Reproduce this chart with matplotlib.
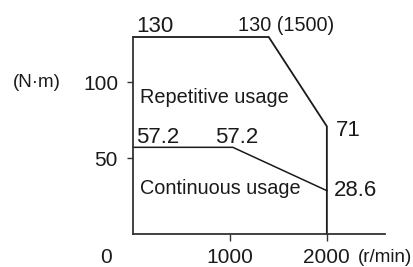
import matplotlib
matplotlib.use("Agg")
import matplotlib.pyplot as plt

plt.rcParams["font.family"] = ["Liberation Sans", "DejaVu Sans"]

# ----- data -----
rep_speed = [0, 1400, 2000, 2000]
rep_torque = [130, 130, 71, 0]
cont_speed = [0, 1030, 2000]
cont_torque = [57.2, 57.2, 28.6]
y_ticks = [50, 100]
x_ticks = [1000, 2000]

INK = "#1a1a1a"

fig = plt.figure(figsize=(4.14, 2.67), dpi=100)
ax = fig.add_axes([0.3213, 0.1236, 0.6087, 0.7378])
ax.set_xlim(0, 2600)
ax.set_ylim(0, 130)

for s in ["top", "right"]:
    ax.spines[s].set_visible(False)
for s in ["left", "bottom"]:
    ax.spines[s].set_linewidth(1.3)
    ax.spines[s].set_color("#333333")

ax.plot(rep_speed, rep_torque, color=INK, lw=1.3, solid_joinstyle="miter", clip_on=False)
ax.plot(cont_speed, cont_torque, color=INK, lw=1.1, clip_on=False)

ax.set_yticks(y_ticks)
ax.set_xticks(x_ticks)
ax.tick_params(axis="y", direction="out", length=4.3, width=1, pad=6.5,
               labelsize=15, colors="#333333", labelcolor=INK)
ax.tick_params(axis="x", direction="out", length=5, width=1, pad=5,
               labelsize=15, colors="#333333", labelcolor=INK)

# origin label and units
ax.text(-280, -15.2, "0", ha="center", va="center", fontsize=15, color=INK, clip_on=False)
ax.text(2319, -15.2, "(r/min)", ha="left", va="center", fontsize=13.5, color=INK, clip_on=False)
ax.text(-1242, 100, "(N\u00b7m)", ha="left", va="center", fontsize=13.5, color=INK, clip_on=False)

# value annotations
ax.text(31, 133.5, "130", ha="left", va="baseline", fontsize=16, color=INK, clip_on=False)
ax.text(1584, 133.8, "130 (1500)", ha="center", va="baseline", fontsize=14.3, color=INK, clip_on=False)
ax.text(31, 60.1, "57.2", ha="left", va="baseline", fontsize=16, color=INK)
ax.text(849, 60.1, "57.2", ha="left", va="baseline", fontsize=16, color=INK)
ax.text(2091, 68, "71", ha="left", va="center", fontsize=16, color=INK)
ax.text(2070, 28.4, "28.6", ha="left", va="center", fontsize=16, color=INK)

ax.text(72, 89.9, "Repetitive usage", ha="left", va="center", fontsize=14.3, color=INK)
ax.text(72, 29.7, "Continuous usage", ha="left", va="center", fontsize=14.3, color=INK)

fig.savefig("out.png", dpi=100)
